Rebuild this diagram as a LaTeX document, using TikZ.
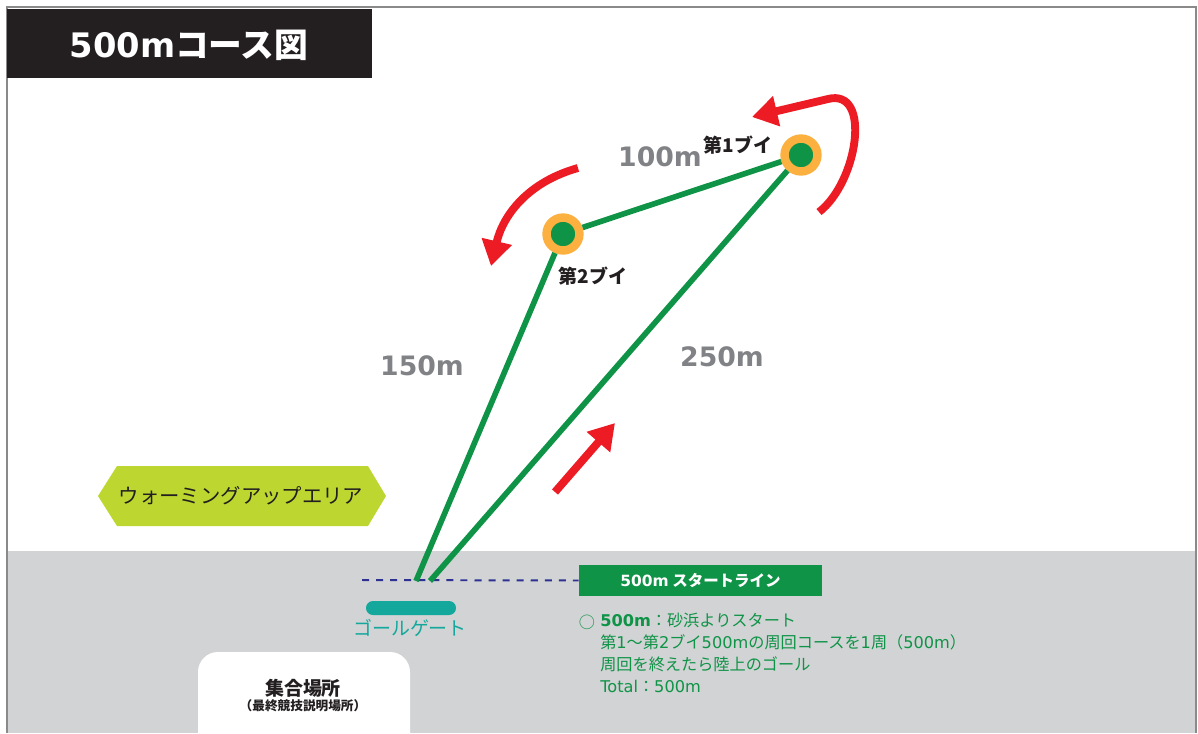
\documentclass[tikz,border=0pt]{standalone}
\usepackage{fontspec}
\setmainfont{Noto Sans CJK JP}
\newfontfamily\latfont{DejaVu Sans}
\newcommand{\ltn}[1]{{\latfont #1}}
\usetikzlibrary{arrows.meta}
\definecolor{crsgreen}{HTML}{0F9347}
\definecolor{buoyorange}{HTML}{FBB040}
\definecolor{arrred}{HTML}{ED1C24}
\definecolor{distgray}{HTML}{808285}
\definecolor{sandgray}{HTML}{D1D3D4}
\definecolor{warmlime}{HTML}{BED730}
\definecolor{goalteal}{HTML}{14A89D}
\definecolor{linenavy}{HTML}{2E3192}
\definecolor{inkblack}{HTML}{231F20}
\definecolor{framegray}{HTML}{8A8A8A}
\tikzstyle{buoy}=[circle,draw=buoyorange,fill=crsgreen,line width=6pt,minimum size=23.4pt,inner sep=0pt]
\tikzstyle{leg}=[draw=crsgreen,line width=4pt]
\tikzstyle{turn}=[draw=arrred,line width=5.6pt,-{Triangle[length=18pt,width=21pt]}]
\tikzstyle{dist}=[text=distgray,font=\latfont\bfseries\fontsize{19}{19}\selectfont]
\tikzstyle{buoylabel}=[text=inkblack,font=\bfseries\fontsize{13.5}{13.5}\selectfont]

\begin{document}
\begin{tikzpicture}[x=0.025cm,y=-0.025cm]
	\useasboundingbox (0,0) rectangle (1198,733);
	\fill[sandgray] (8,551) rectangle (1196,733);
	\draw[framegray,line width=1pt] (7,733) |- (1196,7) -- (1196,733);
	\fill[inkblack] (7,9) rectangle (372,78);
	\node (ttl) at (189,45) [text=white,font=\bfseries\fontsize{24}{24}\selectfont] {\ltn{500m}コース図};

	\fill[warmlime] (98,496) -- (117,466) -- (368,466) -- (386,496) -- (368,526) -- (117,526) -- cycle;
	\node (warm) at (241,496) [text=inkblack,font=\fontsize{14.5}{14.5}\selectfont] {ウォーミングアップエリア};

	\fill[white] (198,733) [rounded corners=0.5cm] -- (198,652) -- (410,652) [sharp corners] -- (410,733) -- cycle;
	\node (meet) at (303,688) [text=inkblack,font=\bfseries\fontsize{13.5}{13.5}\selectfont] {集合場所};
	\node (meetsub) at (303,706) [text=inkblack,font=\bfseries\fontsize{9}{9}\selectfont] {（最終競技説明場所）};

	\node (slbox) at (700.5,580.5) [fill=crsgreen,minimum width=6.075cm,minimum height=0.775cm,text=white,font=\bfseries\fontsize{11}{11}\selectfont] {\ltn{500m} スタートライン};
	\coordinate (dl) at (362,580);
	\draw[linenavy,line width=1.4pt,dash pattern=on 5pt off 5pt] (dl) -- (slbox.west);

	\node (gbar) at (411,608) [fill=goalteal,rounded corners=0.175cm,minimum width=2.25cm,minimum height=0.35cm,inner sep=0pt] {};
	\node (gtxt) at (410,628) [text=goalteal,font=\fontsize{13.5}{13.5}\selectfont] {ゴールゲート};

	\node[buoy] (b1) at (801,155) {};
	\node[buoy] (b2) at (563,234) {};
	\coordinate (s1) at (416,581);
	\coordinate (s2) at (430,581);
	\draw[leg] (s1) -- (b2) -- (b1) -- (s2);

	\node[buoylabel] (l1) at (738,145) {第1ブイ};
	\node[buoylabel] (l2) at (593,276) {第2ブイ};
	\node[dist] (d100) at (660,157) {100m};
	\node[dist] (d150) at (422,366) {150m};
	\node[dist] (d250) at (722,357) {250m};

	\draw[turn] (819,212) .. controls (858,182) and (872,88) .. (828,99) -- (752,117);
	\draw[turn] (578,168) .. controls (528,182) and (503,215) .. (491,266);
	\draw[turn] (555,492) -- (615,423);

	\node (mk) at (587,622) [text=crsgreen,font=\fontsize{11.5}{11.5}\selectfont] {○};
	\node (notes) [anchor=north west,inner sep=0pt,align=left,text=crsgreen,font=\fontsize{11.5}{15.6}\selectfont] at (600,613) {{\bfseries\ltn{500m}}：砂浜よりスタート\\第\ltn{1}～第\ltn{2}ブイ\ltn{500m}の周回コースを\ltn{1}周（\ltn{500m}）\\周回を終えたら陸上のゴール\\\ltn{Total}：\ltn{500m}};
\end{tikzpicture}
\end{document}
